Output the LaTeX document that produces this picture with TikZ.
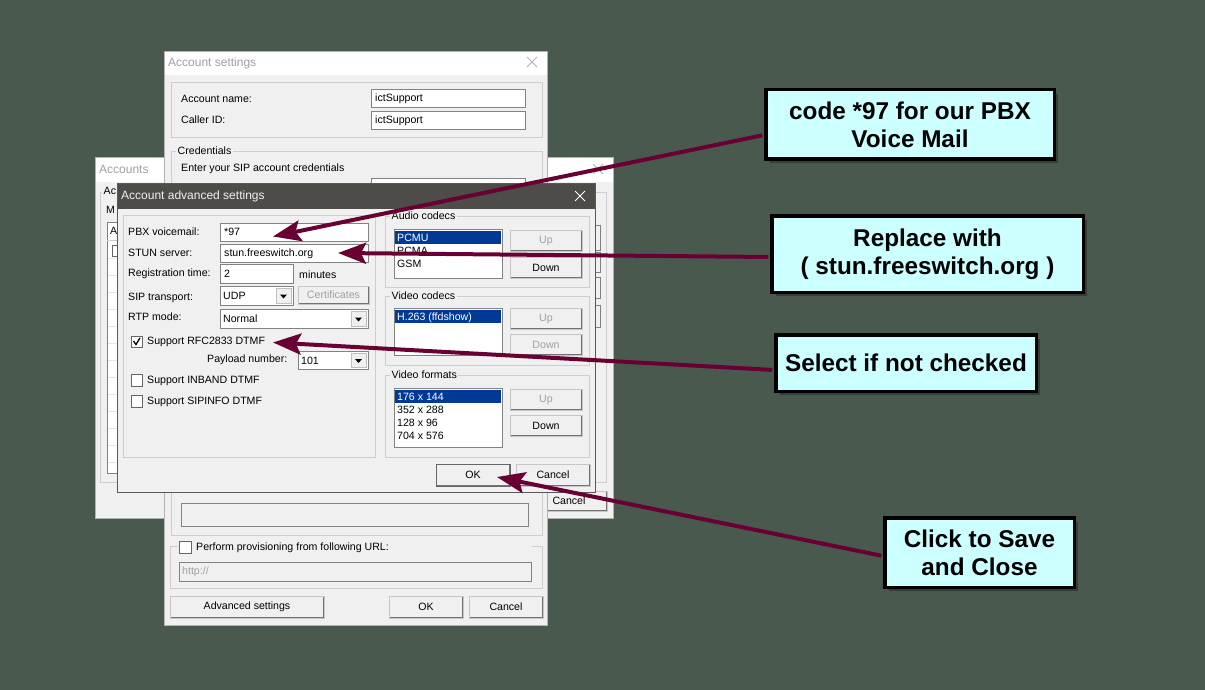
\documentclass[tikz,border=0pt]{standalone}
\usepackage{fontspec}
\setmainfont{Liberation Sans}
\usepackage{xcolor}
\usepackage{tikz}
\usetikzlibrary{shadows, positioning, arrows.meta, calc}

\definecolor{bgdark}{RGB}{74,89,78}
\definecolor{winface}{RGB}{240,240,240}
\definecolor{titledark}{RGB}{77,76,73}
\definecolor{grpgray}{RGB}{205,205,205}
\definecolor{fieldgray}{RGB}{130,130,130}
\definecolor{dimtext}{RGB}{160,160,160}
\definecolor{selblue}{RGB}{0,58,150}
\definecolor{arrowred}{RGB}{104,0,52}
\definecolor{callfill}{RGB}{204,255,255}

\begin{document}
\begin{tikzpicture}[
    x=1pt, y=-1pt,
    dlgtext/.style={
        inner sep=0pt,
        anchor=west,
        text height=9.4pt,
        text depth=2.2pt,
        font=\fontsize{10.6}{12}\selectfont
    },
    titletext/.style={inner sep=0pt, anchor=west, text height=10.5pt, text depth=2.5pt, font=\fontsize{12}{14}\selectfont},
    grplbl/.style={dlgtext, fill=winface, inner xsep=1.5pt, text height=8.4pt},
    grpline/.style={draw=grpgray, line width=0.8pt},
    fieldbox/.style={fill=white, draw=fieldgray, line width=0.8pt},
    chkbox/.style={fill=white, draw=black!60, line width=0.8pt},
    winedge/.style={draw=gray!60, line width=0.8pt},
    dropbtn/.style={fill=winface, draw=gray!50, line width=0.6pt},
    winbtn/.style={
        rectangle,
        fill=winface,
        draw=gray!45,
        line width=0.8pt,
        inner sep=0pt,
        minimum height=21pt,
        font=\fontsize{10.6}{12}\selectfont,
        path picture={\draw[black!55, line width=2.4pt]
            (path picture bounding box.south west) -- (path picture bounding box.south east)
            -- (path picture bounding box.north east);}
    },
    callbox/.style={
        rectangle,
        draw=black,
        line width=3.5pt,
        fill=callfill,
        align=center,
        inner sep=0pt,
        font=\fontsize{24.3}{28}\selectfont\bfseries,
        drop shadow={shadow xshift=4pt, shadow yshift=-4pt, fill=black, opacity=0.3}
    },
    callarrow/.style={
        -{Stealth[length=28pt, width=21pt, inset=5pt]},
        draw=arrowred,
        line width=4pt,
        shorten <=1.75pt
    }
]
    \useasboundingbox (0,0) rectangle (1205,690);
    \fill[bgdark] (0,0) rectangle (1205,690);

    % Accounts window (behind)
    \fill[winface] (95,157) rectangle (613,518);
    \fill[white] (95,157) rectangle (613,182);
    \draw[winedge] (95,157) rectangle (613,518);
    \node[titletext, text=gray!75] (acctitle) at (99,170) {Accounts};
    \draw[gray!60, line width=0.8pt] (593,164) -- (603,174) (593,174) -- (603,164);
    \draw[grpline] (100,192) rectangle (606,482);
    \node[grplbl] (accgrp) at (102,191) {Ac};
    \node[dlgtext] (accmanage) at (106,210) {M};
    \draw[fieldbox] (107,222) rectangle (520,473);
    \draw[grpline] (107,240) -- (520,240) (117,222) -- (117,240);
    \node[dlgtext] (acchead) at (110,231) {A};
    \foreach \y in {258,275,...,466}
        \draw[gray!20] (108,\y) -- (519,\y);
    \draw[chkbox] (112,245) rectangle (121,256);
    \foreach \ya/\yb in {225/250, 252/272, 277/298, 305/327}
        \draw[fill=winface, draw=black!50, line width=0.8pt] (525,\ya) rectangle (600,\yb);
    \node[winbtn, minimum width=76pt, minimum height=20pt] (acccancel) at (569,501) {Cancel};

    % Account settings window
    \fill[winface] (164,51) rectangle (547,625);
    \fill[white] (164,51) rectangle (547,75);
    \draw[winedge] (164,51) rectangle (547,625);
    \node[titletext, text=gray!75] (settitle) at (168,63) {Account settings};
    \draw[gray!60, line width=0.8pt] (527,57) -- (537,67) (527,67) -- (537,57);
    \draw[grpline] (171,82) rectangle (542,137);
    \node[dlgtext] (namelbl) at (181,99) {Account name:};
    \draw[fieldbox] (371,89) rectangle (525,107);
    \node[dlgtext] (nameval) at (375,98) {ictSupport};
    \node[dlgtext] (calleridlbl) at (181,120) {Caller ID:};
    \draw[fieldbox] (371,111) rectangle (525,129);
    \node[dlgtext] (calleridval) at (375,120) {ictSupport};
    \draw[grpline] (171,151) rectangle (542,535);
    \node[grplbl] (credlbl) at (176,151) {Credentials};
    \node[dlgtext] (credhint) at (181,168) {Enter your SIP account credentials};
    \draw[fieldbox] (371,178) rectangle (525,196);
    \draw[fieldbox, fill=winface] (181,503) rectangle (528,526);
    \draw[grpline] (170,546) rectangle (542,588);
    \fill[winface] (178,539) rectangle (532,555);
    \draw[chkbox] (179,541) rectangle (191,553);
    \node[dlgtext] (provlbl) at (196,547) {Perform provisioning from following URL:};
    \draw[fieldbox, fill=winface] (179,562) rectangle (531,581);
    \node[dlgtext, text=dimtext] (provval) at (182,571) {http://};
    \node[winbtn, minimum width=154pt, minimum height=22pt] (advbtn) at (247,607) {Advanced settings};
    \node[winbtn, minimum width=74pt, minimum height=22pt] (setok) at (426,607) {OK};
    \node[winbtn, minimum width=74pt, minimum height=22pt] (setcancel) at (506,607) {Cancel};

    % Account advanced settings window (front)
    \fill[winface] (117,183) rectangle (595,492);
    \fill[titledark] (117,183) rectangle (595,209);
    \draw[draw=gray!70!black, line width=0.8pt] (117,183) rectangle (595,492);
    \node[titletext, text=winface] (advtitle) at (121,196) {Account advanced settings};
    \draw[white, line width=1pt] (575,191) -- (585,201) (575,201) -- (585,191);

    \draw[grpline] (123,215) rectangle (375,457);
    \node[dlgtext] (pbxlbl) at (128,232) {PBX voicemail:};
    \draw[fieldbox] (220,223) rectangle (368,241);
    \node[dlgtext] (pbxval) at (224,232) {*97};
    \node[dlgtext] (stunlbl) at (128,253) {STUN server:};
    \draw[fieldbox] (220,244) rectangle (368,262);
    \node[dlgtext] (stunval) at (224,253) {stun.freeswitch.org};
    \node[dlgtext] (reglbl) at (128,273) {Registration time:};
    \draw[fieldbox] (220,264) rectangle (293,283);
    \node[dlgtext] (regval) at (224,274) {2};
    \node[dlgtext] (regunit) at (299,275) {minutes};
    \node[dlgtext] (siplbl) at (128,297) {SIP transport:};
    \draw[fieldbox] (220,286) rectangle (293,305);
    \node[dlgtext] (sipval) at (223,296) {UDP};
    \draw[dropbtn] (276,288) rectangle (291,303);
    \fill (280,294.5) -- (287,294.5) -- (283.5,298.5) -- cycle;
    \node[winbtn, text=dimtext, minimum width=71pt, minimum height=18pt] (certbtn) at (333.5,295) {Certificates};
    \node[dlgtext] (rtplbl) at (128,317) {RTP mode:};
    \draw[fieldbox] (220,309) rectangle (368,328);
    \node[dlgtext] (rtpval) at (223,319) {Normal};
    \draw[dropbtn] (351,311) rectangle (366,326);
    \fill (355,317.5) -- (362,317.5) -- (358.5,321.5) -- cycle;
    \draw[chkbox] (131,336) rectangle (142,347);
    \draw[line width=1.3pt] (133.5,341) -- (136,344.5) -- (140,338);
    \node[dlgtext] (rfclbl) at (147,341) {Support RFC2833 DTMF};
    \node[dlgtext] (payloadlbl) at (207,359) {Payload number:};
    \draw[fieldbox] (298,351) rectangle (368,369);
    \node[dlgtext] (payloadval) at (301,361) {101};
    \draw[dropbtn] (351,353) rectangle (366,367);
    \fill (355,359) -- (362,359) -- (358.5,363) -- cycle;
    \draw[chkbox] (131,374) rectangle (142,386);
    \node[dlgtext] (inbandlbl) at (147,380) {Support INBAND DTMF};
    \draw[chkbox] (131,395) rectangle (142,407);
    \node[dlgtext] (sipinfolbl) at (147,401) {Support SIPINFO DTMF};

    % Audio codecs
    \draw[grpline] (385,216) rectangle (589,287);
    \node[grplbl] (audiolbl) at (390,216) {Audio codecs};
    \draw[fieldbox] (394,229) rectangle (502,278);
    \fill[selblue] (395,231) rectangle (501,244);
    \node[dlgtext, text=white] (pcmu) at (397,237.5) {PCMU};
    \node[dlgtext] (pcma) at (397,250.5) {PCMA};
    \node[dlgtext] (gsm) at (397,263.5) {GSM};
    \node[winbtn, text=dimtext, minimum width=72pt] (audioup) at (546,241) {Up};
    \node[winbtn, minimum width=72pt] (audiodown) at (546,267.5) {Down};

    % Video codecs
    \draw[grpline] (385,296) rectangle (589,365);
    \node[grplbl] (vcodeclbl) at (390,296) {Video codecs};
    \draw[fieldbox] (394,308) rectangle (502,355);
    \fill[selblue] (395,310) rectangle (501,323);
    \node[dlgtext, text=white] (h263) at (397,316.5) {H.263 (ffdshow)};
    \node[winbtn, text=dimtext, minimum width=72pt] (vcodecup) at (546,319) {Up};
    \node[winbtn, text=dimtext, minimum width=72pt] (vcodecdown) at (546,345) {Down};

    % Video formats
    \draw[grpline] (385,375) rectangle (589,457);
    \node[grplbl] (vformatlbl) at (390,375) {Video formats};
    \draw[fieldbox] (394,388) rectangle (502,447);
    \fill[selblue] (395,390) rectangle (501,403);
    \node[dlgtext, text=white] (fmtone) at (397,396.5) {176 x 144};
    \node[dlgtext] (fmttwo) at (397,410) {352 x 288};
    \node[dlgtext] (fmtthree) at (397,423) {128 x 96};
    \node[dlgtext] (fmtfour) at (397,436) {704 x 576};
    \node[winbtn, text=dimtext, minimum width=72pt] (vformatup) at (546,400) {Up};
    \node[winbtn, minimum width=72pt] (vformatdown) at (546,426) {Down};

    \node[winbtn, draw=black!60, minimum width=74pt, minimum height=22pt] (advok) at (473,475) {OK};
    \node[winbtn, minimum width=74pt, minimum height=22pt] (advcancel) at (553,475) {Cancel};

    % Callouts
    \node[callbox, minimum width=288.5pt, minimum height=69.5pt] (voicenote) at (910,124.5) {code *97 for our PBX\\Voice Mail};
    \node[callbox, minimum width=311.5pt, minimum height=76.5pt] (stunnote) at (927.5,254) {Replace with\\( stun.freeswitch.org )};
    \node[callbox, minimum width=260.5pt, minimum height=56.5pt] (dtmfnote) at (906,363) {Select if not checked};
    \node[callbox, minimum width=189.5pt, minimum height=69.5pt] (savenote) at (979.5,552.5) {Click to Save\\and Close};

    % Arrow tips
    \coordinate (voicetip) at (273,236.5);
    \coordinate (stuntip) at (338,253);
    \coordinate (dtmftip) at (273,342.5);
    \coordinate (savetip) at (497,477);

    \draw[callarrow] ([yshift=-10.5pt]voicenote.west) -- (voicetip);
    \draw[callarrow] ([yshift=-3pt]stunnote.west) -- (stuntip);
    \draw[callarrow] ([yshift=-7pt]dtmfnote.west) -- (dtmftip);
    \draw[callarrow] ([yshift=-3.5pt]savenote.west) -- (savetip);
\end{tikzpicture}
\end{document}
